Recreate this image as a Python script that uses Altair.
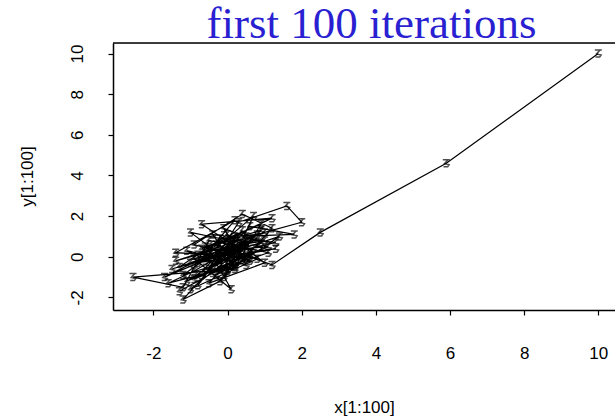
import altair as alt
import pandas as pd

# Chain state (x, y) for each of the first 100 iterations
x_vals = [
    10.0, 5.9, 2.5, 1.2, 0.3, -0.5, 0.8, -0.2, 1.1, -0.9,
    0.4, -0.3, 0.6, -1.2, 0.1, -0.7, 0.9, 0.2, -0.4, 1.3,
    -1.0, 0.5, -0.1, 0.7, -0.6, 1.0, -1.4, 0.0, -0.8, 0.3,
    1.6, 2.0, 0.8, -0.2, -1.0, 0.1, -1.3, -0.4, 0.6, -0.9,
    0.4, 1.2, 0.2, -2.55, -1.2, -0.5, 1.1, -0.7, 0.2, -1.5,
    0.9, -0.1, 0.5, -1.1, 0.0, 1.4, -0.6, 0.3, -1.2, -0.2,
    0.7, -0.8, 0.2, 1.8, 0.6, -0.4, 0.1, -1.0, 0.8, -0.3,
    1.2, -0.7, 0.4, -1.3, 0.0, 1.0, -0.5, 0.5, -0.9, -1.6,
    -0.1, 0.9, -0.6, 0.3, -1.1, 0.7, -0.2, 1.3, -0.8, 0.2,
    -1.4, 0.6, -0.3, 1.0, -0.5, 0.1, -0.9, 0.4, -1.7, 0.5,
]
y_vals = [
    10.0, 4.6, 1.2, -0.4, 0.2, -0.6, 0.9, 0.3, 0.5, -1.1,
    1.3, -0.2, 0.1, -0.9, 0.8, 0.4, 1.6, -0.5, 1.1, 0.7,
    -0.3, 0.6, -1.0, 2.0, 0.0, 1.2, -0.2, 0.5, -1.4, 1.7,
    2.5, 1.7, 1.1, 0.9, 1.2, -0.3, -1.7, -0.8, -0.2, 0.6,
    2.1, 1.4, -0.6, -1.0, -1.5, 0.8, 0.2, -0.9, 0.4, -0.6,
    0.7, 1.4, -0.4, 0.3, -0.7, 1.0, -0.2, 0.9, -2.1, -1.2,
    0.4, 0.1, 1.0, 1.1, 1.5, -0.4, 0.0, -1.6, -0.1, 0.6,
    1.9, 1.6, 0.3, -0.5, 1.1, -0.3, -1.3, 0.8, -0.7, -1.3,
    -0.6, 1.3, 0.5, -0.1, -1.2, 0.9, 0.0, 0.4, -0.3, 1.8,
    0.2, 0.0, -0.9, 0.8, 0.3, -1.6, -0.1, 0.6, -1.0, 1.0,
]
iteration = list(range(1, len(x_vals) + 1))

x_ticks = [-2, 0, 2, 4, 6, 8, 10]
y_ticks = [-2, 0, 2, 4, 6, 8, 10]
X_DOMAIN = [-3.09, 10.45]
Y_DOMAIN = [-2.62, 10.52]
TITLE = "first 100 iterations"

df = pd.DataFrame({"iter": iteration, "x": x_vals, "y": y_vals})

label_font = "Liberation Sans"
# plain hyphen for negative tick labels
plain_label = "'' + datum.value"

x_enc = alt.X(
    "x:Q",
    scale=alt.Scale(domain=X_DOMAIN, nice=False, zero=False),
    axis=alt.Axis(
        values=x_ticks,
        labelExpr=plain_label,
        title="x[1:100]",
        titleFont=label_font,
        titleFontSize=17,
        titleFontWeight="normal",
        titleColor="black",
        titleX=251,
        titleY=97,
        titleAlign="center",
        titleBaseline="middle",
        labelFont=label_font,
        labelFontSize=17,
        labelColor="black",
        labelPadding=30,
        tickSize=5,
        tickColor="black",
        tickWidth=1.2,
        domainColor="black",
        domainWidth=1.5,
        grid=False,
    ),
)
y_enc = alt.Y(
    "y:Q",
    scale=alt.Scale(domain=Y_DOMAIN, nice=False, zero=False),
    axis=alt.Axis(
        values=y_ticks,
        labelExpr=plain_label,
        title="y[1:100]",
        titleFont=label_font,
        titleFontSize=17,
        titleFontWeight="normal",
        titleColor="black",
        titleAngle=-90,
        titleX=-86,
        titleY=133,
        titleAlign="center",
        titleBaseline="middle",
        labelFont=label_font,
        labelFontSize=17,
        labelColor="black",
        labelAngle=-90,
        labelAlign="center",
        labelBaseline="alphabetic",
        labelPadding=26,
        tickSize=5,
        tickColor="black",
        tickWidth=1.2,
        domainColor="black",
        domainWidth=1.5,
        grid=False,
    ),
)

base = alt.Chart(df)

path = base.mark_line(color="black", strokeWidth=1.2).encode(
    x=x_enc, y=y_enc, order="iter:O"
)

# small letter-like glyph drawn at every state
glyph = "M-1,-1H1M0.5,-1L-0.5,0.1L0.8,0.4L0.4,1H-0.8"
points = base.mark_point(
    shape=glyph, size=49, filled=False, color="black", strokeWidth=1.5
).encode(x="x:Q", y="y:Q")

# top edge of the plotting box
top_edge = (
    alt.Chart(pd.DataFrame({"top": [Y_DOMAIN[1]]}))
    .mark_rule(color="black", strokeWidth=1.5)
    .encode(y=alt.Y("top:Q"))
)

# heading text sitting on the top edge of the box
heading = (
    alt.Chart(pd.DataFrame({"t": [TITLE]}))
    .mark_text(
        font="Liberation Serif",
        fontSize=45,
        color="#2a1fd1",
        align="center",
        baseline="alphabetic",
    )
    .encode(text="t:N", x=alt.value(258.5), y=alt.value(-5))
)

chart = (
    alt.layer(path, points, top_edge, heading)
    .properties(
        width=502,
        height=267,
        autosize=alt.AutoSizeParams(type="none"),
        padding={"left": 113, "top": 43, "right": 0, "bottom": 110},
    )
    .configure_view(stroke=None)
    .configure(background="white")
)

chart.save("out.html", embed_options={"renderer": "svg", "actions": False})
